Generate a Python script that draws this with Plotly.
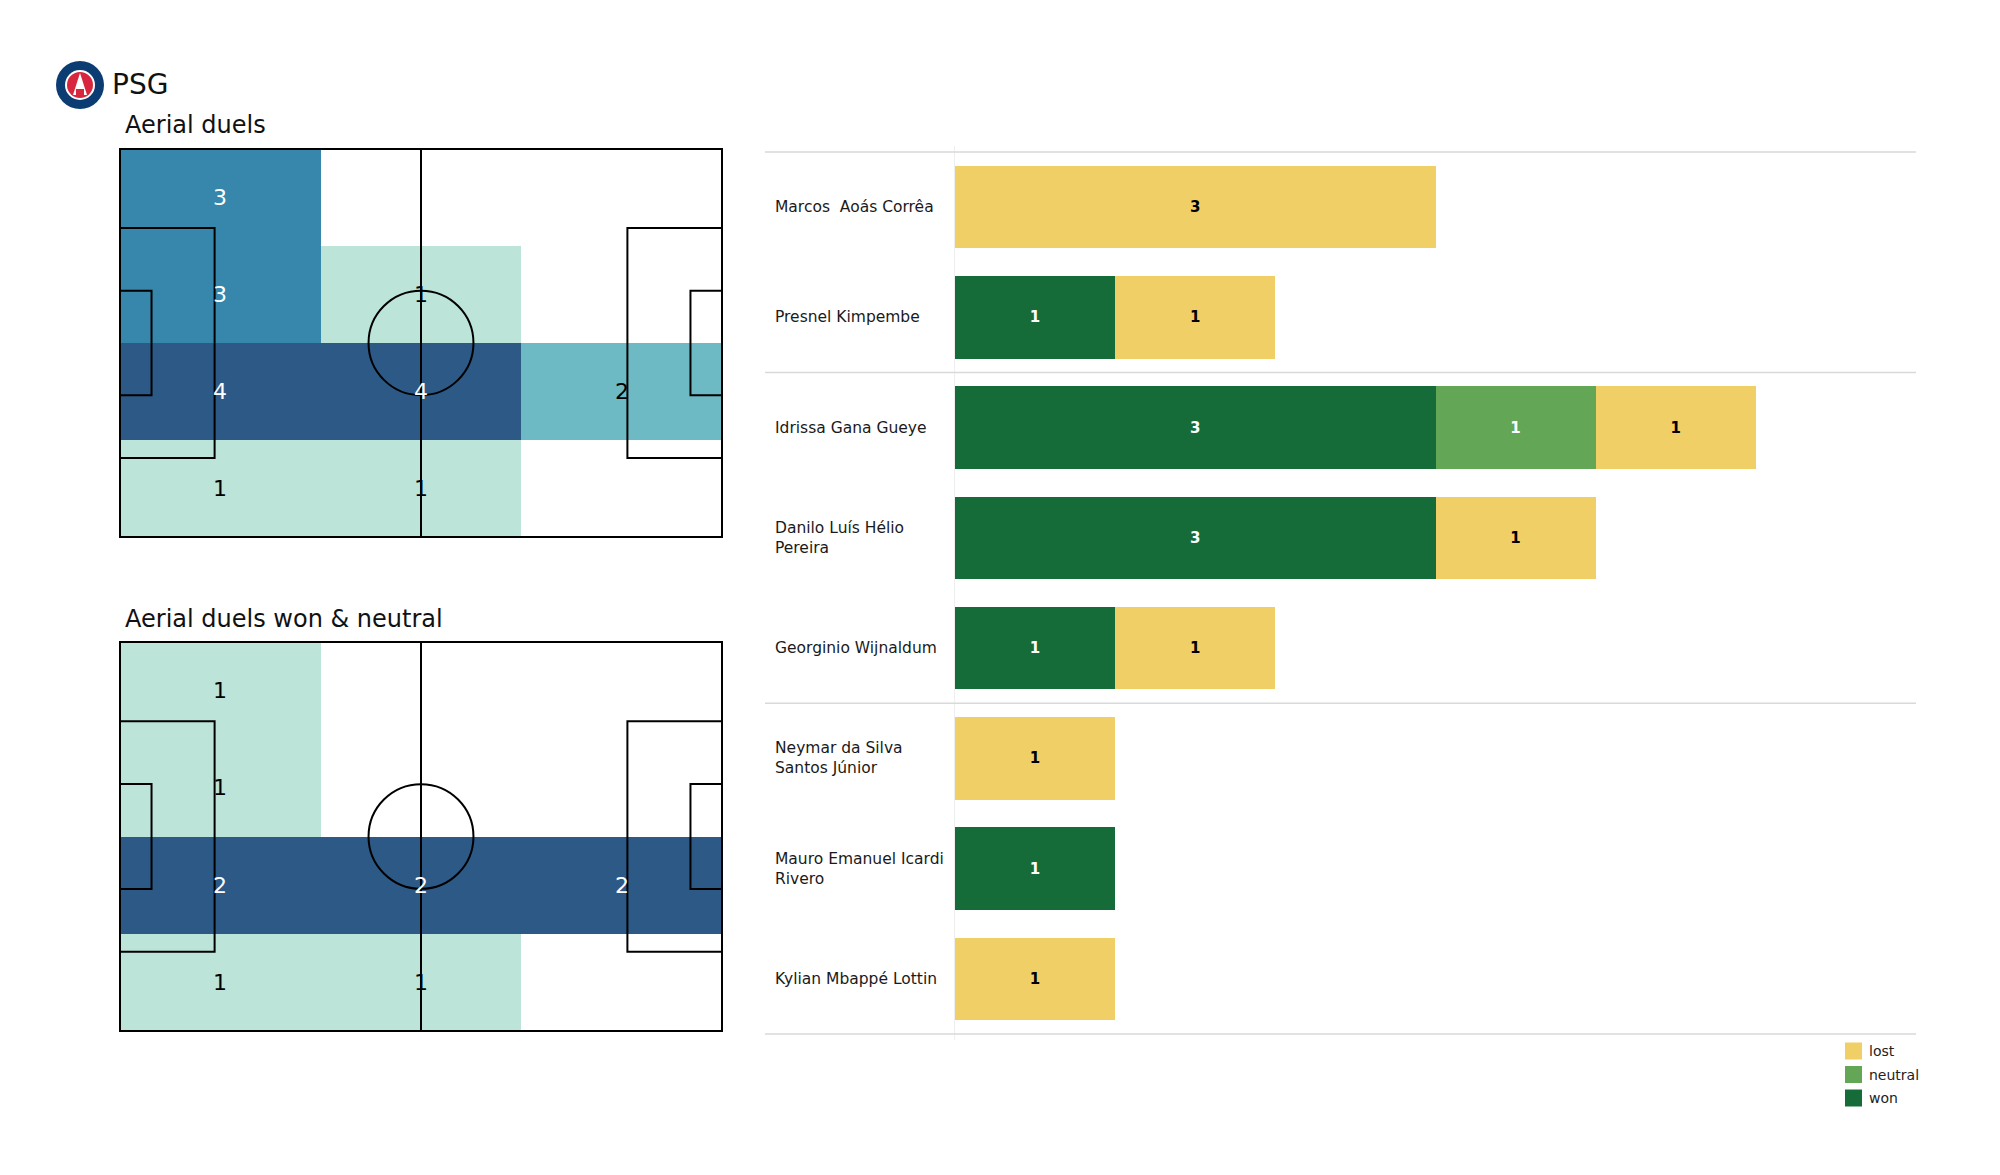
import plotly.graph_objects as go

# ---------------- data ----------------
team = "PSG"
title_all = "Aerial duels"
title_won = "Aerial duels won & neutral"

zone_x = [17.5, 52.5, 87.5]                 # zone centres along pitch length (105 m)
zone_y = [59.5, 42.5, 25.5, 8.5]            # zone centres across pitch width (68 m), top row first
duels_all = [[3, 0, 0],
             [3, 1, 0],
             [4, 4, 2],
             [1, 1, 0]]
duels_won_neutral = [[1, 0, 0],
                     [1, 0, 0],
                     [2, 2, 2],
                     [1, 1, 0]]

players = ["Marcos  Aoás Corrêa", "Presnel Kimpembe", "Idrissa Gana Gueye",
           "Danilo Luís Hélio\nPereira", "Georginio Wijnaldum",
           "Neymar da Silva\nSantos Júnior", "Mauro Emanuel Icardi\nRivero",
           "Kylian Mbappé Lottin"]
won = [0, 1, 3, 3, 1, 0, 1, 0]
neutral = [0, 0, 1, 0, 0, 0, 0, 0]
lost = [3, 1, 1, 1, 1, 1, 0, 1]
group_breaks = [-0.5, 1.5, 4.5, 7.5]
legend_labels = ["lost", "neutral", "won"]

# ---------------- style ----------------
W, H = 2000, 1175
OFF = 8  # page body margin
FONT = "DejaVu Sans"
C_WON, C_NEU, C_LOST = "#166c38", "#62a656", "#f1cf67"
HEAT_SCALE = [[0.0, "#bce4d9"], [0.333, "#6db9c4"], [0.667, "#3787ac"], [1.0, "#2c5986"]]


def px(x):
    return (x - OFF) / W


def py(y):
    return 1 - (y - OFF) / H


fig = go.Figure()

# pitch geometry (metres)
L, Wd = 105, 68


def pitch_shapes(xr, yr):
    s = []
    ln = dict(color="black", width=2)
    s.append(dict(type="rect", xref=xr, yref=yr, x0=0, y0=0, x1=L, y1=Wd, line=ln, layer="above"))
    s.append(dict(type="line", xref=xr, yref=yr, x0=L / 2, y0=0, x1=L / 2, y1=Wd, line=ln, layer="above"))
    s.append(dict(type="circle", xref=xr, yref=yr, x0=L / 2 - 9.15, x1=L / 2 + 9.15,
                  y0=Wd / 2 - 9.15, y1=Wd / 2 + 9.15, line=ln, layer="above"))
    for a, b in [(0, 16.5), (L - 16.5, L)]:
        s.append(dict(type="rect", xref=xr, yref=yr, x0=a, x1=b, y0=Wd / 2 - 20.16, y1=Wd / 2 + 20.16,
                      line=ln, layer="above"))
    for a, b in [(0, 5.5), (L - 5.5, L)]:
        s.append(dict(type="rect", xref=xr, yref=yr, x0=a, x1=b, y0=Wd / 2 - 9.16, y1=Wd / 2 + 9.16,
                      line=ln, layer="above"))
    return s


shapes = []
annotations = []

for k, (grid, xa, ya) in enumerate([(duels_all, "x", "y"), (duels_won_neutral, "x2", "y2")]):
    zmax = max(max(r) for r in grid)
    rows = list(reversed(grid))
    ys = list(reversed(zone_y))
    z = [[(v if v > 0 else None) for v in r] for r in rows]
    fig.add_trace(go.Heatmap(x=zone_x, y=ys, z=z, zmin=1, zmax=zmax, colorscale=HEAT_SCALE,
                             showscale=False, hoverinfo="skip", xaxis=xa, yaxis=ya))
    for r, yy in zip(grid, zone_y):
        for v, xx in zip(r, zone_x):
            if v > 0:
                t = (v - 1) / (zmax - 1) if zmax > 1 else 1
                annotations.append(dict(x=xx, y=yy, xref=xa, yref=ya, text=str(v), showarrow=False,
                                        font=dict(family=FONT, size=22,
                                                  color="white" if t > 0.5 else "black")))
    shapes += pitch_shapes(xa, ya)

# ---------------- bars ----------------
ypos = list(range(len(players)))
for vals, name, col, tcol in [(won, "won", C_WON, "white"), (neutral, "neutral", C_NEU, "white"),
                              (lost, "lost", C_LOST, "black")]:
    fig.add_trace(go.Bar(
        x=vals, y=ypos, orientation="h", name=name, marker=dict(color=col, line=dict(width=0)),
        width=0.75, text=[str(v) if v else "" for v in vals], texttemplate="<b>%{text}</b>",
        textposition="inside", insidetextanchor="middle",
        textfont=dict(family=FONT, size=15, color=tcol),
        xaxis="x3", yaxis="y3", showlegend=False, hoverinfo="skip"))

for g in group_breaks:
    shapes.append(dict(type="line", xref="paper", yref="y3", x0=px(765), x1=px(1916), y0=g, y1=g,
                       line=dict(color="#d9d9d9", width=1.5), layer="above"))

for i, nm in enumerate(players):
    annotations.append(dict(x=px(773), y=i, xref="paper", yref="y3", xanchor="left", yanchor="middle",
                            align="left", showarrow=False,
                            text=nm.replace("  ", " \u00a0").replace("\n", "<br>"),
                            font=dict(family=FONT, size=15.5, color="#1a1a1a")))

# legend (manual)
leg_cols = {"lost": C_LOST, "neutral": C_NEU, "won": C_WON}
for j, lab in enumerate(legend_labels):
    yc = 1051 + j * 23.5
    shapes.append(dict(type="rect", xref="paper", yref="paper", x0=px(1845), x1=px(1862),
                       y0=py(yc + 8.5), y1=py(yc - 8.5), fillcolor=leg_cols[lab], line=dict(width=0)))
    annotations.append(dict(x=px(1867), y=py(yc), xref="paper", yref="paper", xanchor="left",
                            yanchor="middle", showarrow=False, text=lab,
                            font=dict(family=FONT, size=14, color="#222222")))

# titles
annotations.append(dict(x=px(110), y=py(84), xref="paper", yref="paper", xanchor="left", yanchor="middle",
                        showarrow=False, text=team, font=dict(family=FONT, size=28, color="#111111")))
annotations.append(dict(x=px(123), y=py(125), xref="paper", yref="paper", xanchor="left", yanchor="middle",
                        showarrow=False, text=title_all, font=dict(family=FONT, size=24, color="#111111")))
annotations.append(dict(x=px(123), y=py(619), xref="paper", yref="paper", xanchor="left", yanchor="middle",
                        showarrow=False, text=title_won, font=dict(family=FONT, size=24, color="#111111")))

# simplified crest
cx, cy = 80, 85
for r, colr in [(24, "#0b3d73"), (15, "#ffffff"), (13, "#d7263d")]:
    shapes.append(dict(type="circle", xref="paper", yref="paper", x0=px(cx - r), x1=px(cx + r),
                       y0=py(cy + r), y1=py(cy - r), fillcolor=colr, line=dict(width=0)))
tower = "M {} {} L {} {} L {} {} Z".format(px(cx), py(cy - 12), px(cx - 7), py(cy + 10), px(cx + 7), py(cy + 10))
shapes.append(dict(type="path", xref="paper", yref="paper", path=tower, fillcolor="#ffffff", line=dict(width=0)))
shapes.append(dict(type="rect", xref="paper", yref="paper", x0=px(cx - 4), x1=px(cx + 4), y0=py(cy + 10),
                   y1=py(cy + 4), fillcolor="#d7263d", line=dict(width=0)))

# ---------------- axes ----------------
ext = 0.5
ax_hidden = dict(visible=False, showgrid=False, zeroline=False, fixedrange=True)
sx = 602 / L
fig.update_layout(
    width=W, height=H, margin=dict(l=0, r=0, t=0, b=0),
    paper_bgcolor="white", plot_bgcolor="white", barmode="stack", bargap=0.25,
    font=dict(family=FONT),
    xaxis=dict(ax_hidden, domain=[px(120 - ext * sx), px(722 + ext * sx)], range=[-ext, L + ext], anchor="y"),
    yaxis=dict(ax_hidden, domain=[py(537 + ext * 388 / Wd), py(149 - ext * 388 / Wd)], range=[-ext, Wd + ext],
               anchor="x"),
    xaxis2=dict(ax_hidden, domain=[px(120 - ext * sx), px(722 + ext * sx)], range=[-ext, L + ext], anchor="y2"),
    yaxis2=dict(ax_hidden, domain=[py(1031 + ext * 389 / Wd), py(642 - ext * 389 / Wd)], range=[-ext, Wd + ext],
                anchor="x2"),
    xaxis3=dict(domain=[px(955), px(1916)], range=[0, 6], visible=False, fixedrange=True, anchor="y3"),
    yaxis3=dict(domain=[py(1034 + 0.05 * 110.25), py(152 - 0.05 * 110.25)], range=[7.55, -0.55],
                showticklabels=False, ticks="", showgrid=False, zeroline=False, showline=True,
                linecolor="#eeeeee", linewidth=1, fixedrange=True, anchor="x3"),
    shapes=shapes, annotations=annotations,
)

fig.write_html("out.html")
